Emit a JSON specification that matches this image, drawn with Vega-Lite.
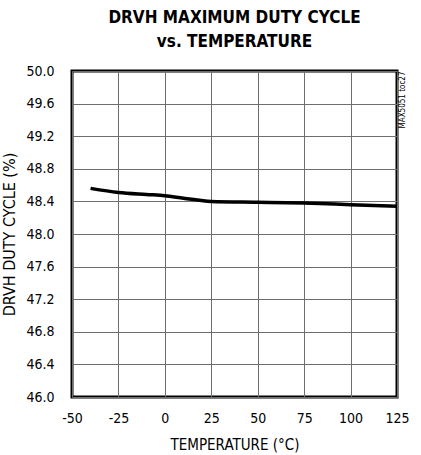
{
  "$schema": "https://vega.github.io/schema/vega-lite/v6.json",
  "autosize": {"type": "none"},
  "width": 325,
  "height": 326,
  "padding": {"left": 72, "top": 71, "right": 24, "bottom": 58},
  "background": "white",
  "title": {
    "text": ["DRVH MAXIMUM DUTY CYCLE", "vs. TEMPERATURE"],
    "font": "DejaVu Sans Condensed, Liberation Sans, sans-serif",
    "fontWeight": "bold",
    "fontSize": 17,
    "lineHeight": 24,
    "color": "black",
    "anchor": "middle",
    "offset": 13
  },
  "config": {
    "view": {"stroke": "black", "strokeWidth": 3},
    "axis": {
      "labelFont": "DejaVu Sans Condensed, Liberation Sans, sans-serif",
      "titleFont": "DejaVu Sans Condensed, Liberation Sans, sans-serif",
      "labelFontSize": 14,
      "titleFontSize": 15,
      "titleFontWeight": "normal",
      "labelColor": "black",
      "titleColor": "black",
      "gridColor": "#6e6e6e",
      "gridOpacity": 1,
      "gridWidth": 1,
      "ticks": false,
      "domain": false
    }
  },
  "data": {
    "values": [
      {"temp": -40, "duty": 48.56},
      {"temp": -25, "duty": 48.51},
      {"temp": -10, "duty": 48.485},
      {"temp": 0, "duty": 48.47},
      {"temp": 10, "duty": 48.44},
      {"temp": 25, "duty": 48.40},
      {"temp": 50, "duty": 48.39},
      {"temp": 75, "duty": 48.38},
      {"temp": 100, "duty": 48.36},
      {"temp": 125, "duty": 48.34}
    ]
  },
  "layer": [
    {
      "mark": {"type": "line", "color": "black", "strokeWidth": 3.5, "interpolate": "monotone"},
      "encoding": {
        "x": {
          "field": "temp", "type": "quantitative",
          "scale": {"domain": [-50, 125], "nice": false, "zero": false},
          "axis": {"values": [-50, -25, 0, 25, 50, 75, 100, 125], "labelExpr": "datum.value < 0 ? '-' + abs(datum.value) : '' + datum.value", "labelFlush": false, "labelOverlap": false, "title": "TEMPERATURE (°C)", "labelPadding": 14, "titlePadding": 12}
        },
        "y": {
          "field": "duty", "type": "quantitative",
          "scale": {"domain": [46, 50], "nice": false, "zero": false},
          "axis": {"values": [46, 46.4, 46.8, 47.2, 47.6, 48, 48.4, 48.8, 49.2, 49.6, 50], "format": ".1f", "labelFlush": false, "labelOverlap": false, "title": "DRVH DUTY CYCLE (%)", "titleFontSize": 16, "labelPadding": 18, "titlePadding": 8}
        }
      }
    },
    {
      "mark": {"type": "line", "strokeOpacity": 0},
      "encoding": {
        "x": {"field": "temp", "type": "quantitative"},
        "y": {
          "field": "duty", "type": "quantitative",
          "scale": {"domain": [46, 50], "nice": false, "zero": false},
          "axis": {"orient": "right", "grid": false, "labels": false, "title": "MAX5051 toc27", "titleFontSize": 8, "titleAngle": 270, "titleAnchor": "end", "titlePadding": 9}
        }
      }
    }
  ],
  "resolve": {"axis": {"y": "independent"}}
}
